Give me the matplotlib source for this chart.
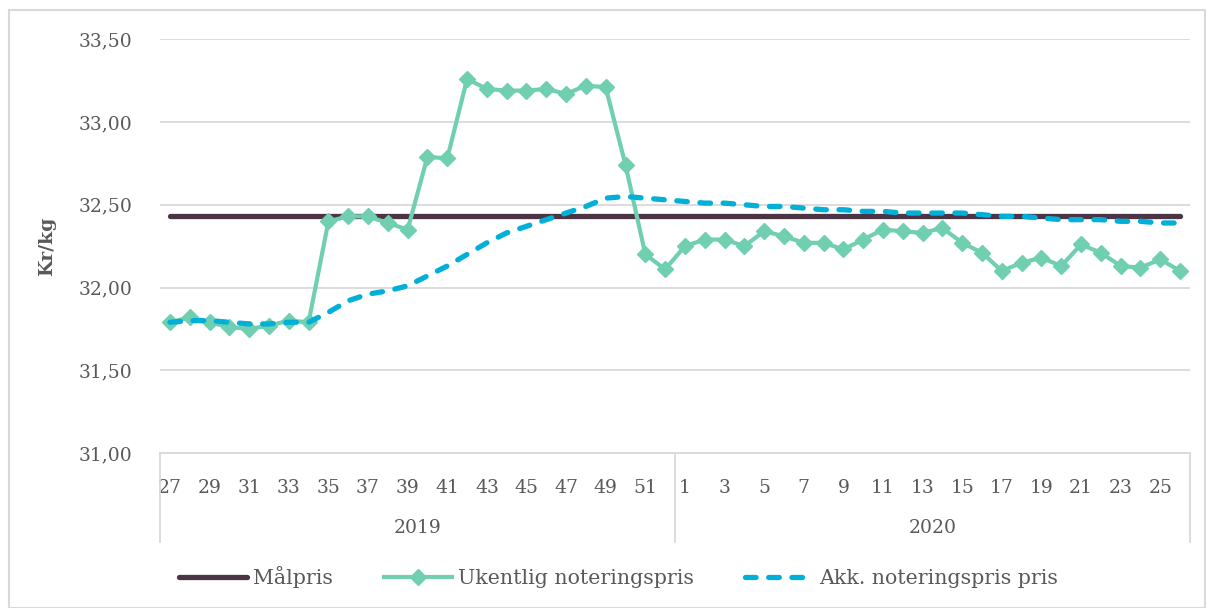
import matplotlib
matplotlib.use("Agg")
import matplotlib.pyplot as plt
from matplotlib.patches import Rectangle

plt.rcParams['font.family'] = ['DejaVu Serif']

# uker
uker_2019 = list(range(27, 53))
uker_2020 = list(range(1, 27))
aar = ['2019', '2020']

malpris = [32.43] * 52

ukentlig = [31.79, 31.82, 31.79, 31.76, 31.75, 31.77, 31.80, 31.79, 32.40, 32.43,
            32.43, 32.39, 32.35, 32.79, 32.78, 33.26, 33.20, 33.19, 33.19, 33.20,
            33.17, 33.22, 33.21, 32.74, 32.20, 32.11,
            32.25, 32.29, 32.29, 32.25, 32.34, 32.31, 32.27, 32.27, 32.23, 32.29,
            32.35, 32.34, 32.33, 32.36, 32.27, 32.21, 32.10, 32.15, 32.18, 32.13,
            32.26, 32.21, 32.13, 32.12, 32.17, 32.10]

akkumulert = [31.79, 31.80, 31.80, 31.79, 31.78, 31.78, 31.79, 31.79, 31.85, 31.92,
              31.96, 31.98, 32.01, 32.07, 32.13, 32.20, 32.27, 32.33, 32.37, 32.41,
              32.45, 32.49, 32.54, 32.55, 32.54, 32.53,
              32.52, 32.51, 32.51, 32.50, 32.49, 32.49, 32.48, 32.47, 32.47, 32.46,
              32.46, 32.45, 32.45, 32.45, 32.45, 32.44, 32.43, 32.43, 32.42, 32.41,
              32.41, 32.41, 32.40, 32.40, 32.39, 32.39]

tekst = '#595959'
grid = '#d9d9d9'

fig = plt.figure(figsize=(12.08, 6.08), dpi=100)
ax = fig.add_axes([0.1325, 0.2549, 0.8526, 0.6805])

x = range(len(ukentlig))
ax.plot(x, malpris, color='#4b3544', lw=3.8, solid_capstyle='round', label='Målpris', zorder=3)
ax.plot(x, ukentlig, color='#6fcfb0', lw=3, marker='D', ms=8.5, label='Ukentlig noteringspris', zorder=4)
ax.plot(x, akkumulert, color='#00b0d8', lw=3.8, dashes=(2.0, 2.4), dash_capstyle='round',
        label='Akk. noteringspris pris', zorder=5)

ax.set_xlim(-0.5, len(ukentlig) - 0.5)
ax.set_ylim(31.0, 33.5)
ax.set_yticks([31.0, 31.5, 32.0, 32.5, 33.0, 33.5])
ax.set_yticklabels(['31,00', '31,50', '32,00', '32,50', '33,00', '33,50'])
ax.yaxis.grid(True, color=grid, lw=1.3)
ax.set_axisbelow(True)

labels = uker_2019 + uker_2020
pos = [i for i in range(len(labels)) if i % 2 == 0]
ax.set_xticks(pos)
ax.set_xticklabels([str(labels[i]) for i in pos])
ax.tick_params(axis='x', length=0, pad=19, labelsize=13.5, colors=tekst)
ax.tick_params(axis='y', length=0, pad=20, labelsize=13.5, colors=tekst)

for s in ['top', 'right', 'left']:
    ax.spines[s].set_visible(False)
ax.spines['bottom'].set_color(grid)
ax.spines['bottom'].set_linewidth(1.3)

# kategori-skiller og år
trans = ax.get_xaxis_transform()
n19 = len(uker_2019)
for xv in [-0.5, n19 - 0.5, len(labels) - 0.5]:
    ax.plot([xv, xv], [0, -0.215], transform=trans, color=grid, lw=1.3, clip_on=False)
ax.text((n19 - 1) / 2, -0.181, aar[0], transform=trans, ha='center', va='center',
        fontsize=13.5, color=tekst)
ax.text(n19 + (len(uker_2020) - 1) / 2, -0.181, aar[1], transform=trans, ha='center',
        va='center', fontsize=13.5, color=tekst)

ax.set_ylabel('Kr/kg', fontsize=13.5, fontweight='bold', color=tekst, labelpad=16)

fig.legend(loc='center', bbox_to_anchor=(0.512, 0.051), ncol=3, frameon=False,
           fontsize=14.8, handlelength=3.3, handletextpad=0.3, columnspacing=2.5,
           labelcolor=tekst)

fig.patches.append(Rectangle((0.0075, 0.0), 0.9897, 0.984, transform=fig.transFigure,
                             fill=False, edgecolor=grid, lw=1.5))

plt.savefig('out.png', dpi=100)
